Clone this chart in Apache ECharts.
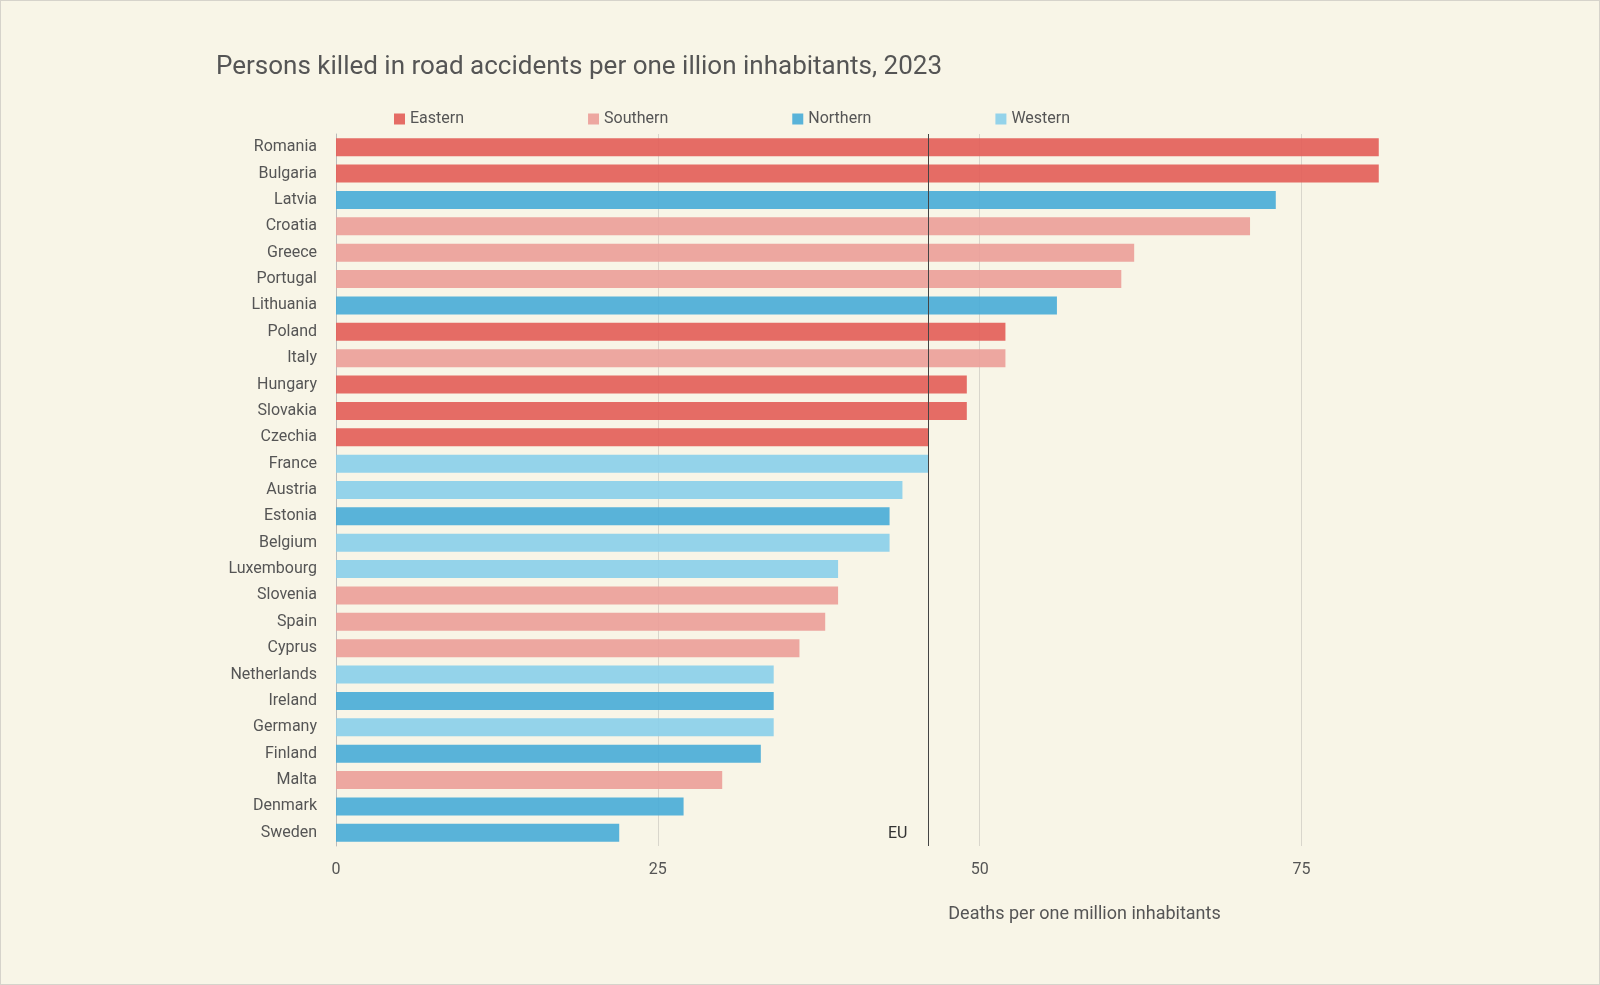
<!DOCTYPE html>
<html>
<head>
<meta charset="utf-8">
<script src="https://cdn.jsdelivr.net/npm/echarts@6/dist/echarts.min.js"></script>
<style>
  html, body { margin: 0; padding: 0; background: #f8f5e7; }
  #chart { width: 1598px; height: 983px; border: 1px solid #d6d3cb; }
</style>
</head>
<body>
<div id="chart"></div>
<script>
const countries = ['Romania', 'Bulgaria', 'Latvia', 'Croatia', 'Greece', 'Portugal', 'Lithuania', 'Poland', 'Italy',
  'Hungary', 'Slovakia', 'Czechia', 'France', 'Austria', 'Estonia', 'Belgium', 'Luxembourg', 'Slovenia', 'Spain',
  'Cyprus', 'Netherlands', 'Ireland', 'Germany', 'Finland', 'Malta', 'Denmark', 'Sweden'];
const deaths = [81, 81, 73, 71, 62, 61, 56, 52, 52, 49, 49, 46, 46, 44, 43, 43, 39, 39, 38, 36, 34, 34, 34, 33, 30, 27, 22];
const regionOf = ['Eastern', 'Eastern', 'Northern', 'Southern', 'Southern', 'Southern', 'Northern', 'Eastern', 'Southern',
  'Eastern', 'Eastern', 'Eastern', 'Western', 'Western', 'Northern', 'Western', 'Western', 'Southern', 'Southern',
  'Southern', 'Western', 'Northern', 'Western', 'Northern', 'Southern', 'Northern', 'Northern'];
const regions = ['Eastern', 'Southern', 'Northern', 'Western'];
const regionColors = ['#e35f5a', '#eca09a', '#4badd8', '#8bcfea'];
const euAverage = 46;

let chart = echarts.init(document.getElementById('chart'));

let series = regions.map((region, i) => {
  return {
    name: region,
    type: 'bar',
    stack: 'all',
    barWidth: 18,
    itemStyle: { color: regionColors[i], opacity: 0.92 },
    data: deaths.map((v, j) => regionOf[j] === region ? v : null),
  };
});
series[0].markLine = {
  silent: true,
  symbol: 'none',
  label: { show: false },
  lineStyle: { color: '#444', width: 1, type: 'solid' },
  data: [{ xAxis: euAverage }],
};

chart.setOption({
  backgroundColor: '#f8f5e7',
  animation: false,
  textStyle: { fontFamily: 'Roboto' },
  title: {
    text: 'Persons killed in road accidents per one illion inhabitants, 2023',
    left: 210,
    top: 48,
    textStyle: { fontSize: 26, fontWeight: 'normal', color: '#555' },
  },
  legend: {
    top: 105,
    left: 388,
    itemGap: 124,
    itemWidth: 11,
    itemHeight: 11,
    icon: 'rect',
    textStyle: { fontSize: 16, color: '#555' },
    data: regions,
  },
  grid: { left: 335, right: 40, top: 133, bottom: 138 },
  xAxis: {
    type: 'value',
    min: 0,
    max: 95,
    interval: 25,
    axisLine: { show: false },
    axisTick: { show: false },
    axisLabel: { showMaxLabel: false, fontSize: 16, color: '#555', margin: 16 },
    splitLine: { showMaxLine: false, lineStyle: { color: '#d9d6cc' } },
    name: 'Deaths per one million inhabitants',
    nameLocation: 'middle',
    nameGap: 59,
    nameTextStyle: { fontSize: 18, color: '#555', padding: [0, 0, 0, 274] },
  },
  yAxis: {
    type: 'category',
    inverse: true,
    data: countries,
    axisLine: { lineStyle: { color: '#bbb' } },
    axisTick: { show: false },
    axisLabel: { fontSize: 16, color: '#555', margin: 19 },
  },
  graphic: [{
    type: 'text',
    left: 887,
    top: 825,
    style: { text: 'EU', fontSize: 16, fill: '#333', fontFamily: 'Roboto' },
  }],
  series: series,
});
</script>
</body>
</html>
